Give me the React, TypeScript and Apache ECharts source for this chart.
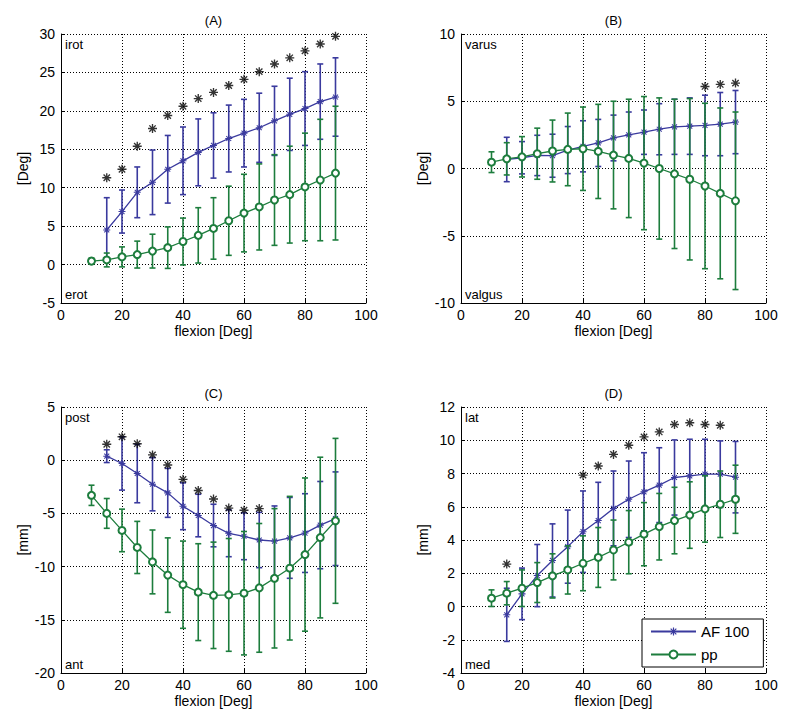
import React, { useEffect, useRef } from "react";
import * as echarts from "echarts";

// ---------- data ----------
const xBlue = [15, 20, 25, 30, 35, 40, 45, 50, 55, 60, 65, 70, 75, 80, 85, 90];
const xGreen = [10, 15, 20, 25, 30, 35, 40, 45, 50, 55, 60, 65, 70, 75, 80, 85, 90];

// Panel A (rotation, Deg)
const aBlueMean = [4.5, 6.9, 9.4, 10.7, 12.4, 13.5, 14.6, 15.5, 16.4, 17.1, 17.8, 18.7, 19.55, 20.3, 21.2, 21.8];
const aBlueErr = [4.2, 2.8, 3.3, 4.2, 4.4, 4.4, 4.35, 4.25, 4.35, 4.4, 4.5, 4.5, 4.7, 4.8, 4.9, 5.1];
const aGreenMean = [0.45, 0.6, 1.0, 1.3, 1.75, 2.2, 3.0, 3.8, 4.7, 5.7, 6.7, 7.5, 8.4, 9.1, 10.1, 11.0, 11.9];
const aGreenErr = [0.4, 0.9, 1.3, 1.75, 2.2, 2.7, 3.05, 3.6, 4.0, 4.5, 5.05, 5.6, 5.9, 6.3, 7.0, 7.9, 8.7];
const aStarX = [15, 20, 25, 30, 35, 40, 45, 50, 55, 60, 65, 70, 75, 80, 85, 90];
const aStarY = [11.3, 12.4, 15.4, 17.7, 19.4, 20.6, 21.6, 22.4, 23.3, 24.1, 25.1, 26.1, 26.9, 27.8, 28.7, 29.7];

// Panel B (varus/valgus, Deg)
const bBlueMean = [0.67, 0.8, 0.97, 0.95, 1.37, 1.65, 1.9, 2.27, 2.5, 2.7, 2.92, 3.1, 3.15, 3.2, 3.3, 3.45];
const bBlueErr = [1.65, 1.2, 1.5, 1.6, 1.75, 1.9, 1.75, 1.7, 1.7, 1.65, 1.9, 2.05, 2.1, 2.25, 2.35, 2.35];
const bGreenMean = [0.47, 0.72, 0.87, 1.1, 1.3, 1.42, 1.47, 1.27, 1.0, 0.75, 0.4, 0.0, -0.4, -0.8, -1.3, -1.85, -2.4];
const bGreenErr = [0.77, 1.2, 1.5, 1.9, 2.3, 2.7, 3.1, 3.5, 4.0, 4.4, 4.95, 5.25, 5.55, 6.0, 6.15, 6.35, 6.6];
const bStarX = [80, 85, 90];
const bStarY = [6.1, 6.25, 6.35];

// Panel C (post/ant, mm)
const cBlueMean = [0.38, -0.31, -1.25, -2.26, -3.07, -4.33, -5.2, -6.14, -6.87, -7.15, -7.5, -7.6, -7.3, -6.85, -6.1, -5.5];
const cBlueErr = [0.6, 2.5, 2.75, 2.5, 2.3, 2.2, 2.0, 2.0, 2.2, 2.2, 2.6, 3.3, 3.8, 3.7, 4.1, 4.4];
const cGreenMean = [-3.3, -5.0, -6.6, -8.2, -9.56, -10.8, -11.7, -12.4, -12.7, -12.66, -12.5, -12.0, -11.1, -10.15, -8.87, -7.27, -5.7];
const cGreenErr = [0.95, 1.4, 2.0, 2.45, 3.0, 3.5, 4.1, 4.55, 5.0, 5.3, 5.8, 6.05, 6.55, 6.75, 7.2, 7.55, 7.75];
const cStarX = [15, 20, 25, 30, 35, 40, 45, 50, 55, 60, 65];
const cStarY = [1.5, 2.2, 1.55, 0.5, -0.45, -1.8, -2.85, -3.65, -4.5, -4.7, -4.55];

// Panel D (lat/med, mm)
const dBlueMean = [-0.5, 0.76, 1.86, 2.77, 3.6, 4.5, 5.17, 5.9, 6.45, 6.9, 7.3, 7.76, 7.86, 7.96, 7.96, 7.78];
const dBlueErr = [1.6, 1.55, 1.87, 2.2, 2.2, 2.45, 2.3, 2.25, 2.3, 2.35, 2.25, 2.26, 2.2, 2.1, 2.0, 2.15];
const dGreenMean = [0.5, 0.8, 1.1, 1.44, 1.84, 2.2, 2.6, 2.95, 3.4, 3.87, 4.35, 4.8, 5.17, 5.5, 5.87, 6.15, 6.45];
const dGreenErr = [0.5, 0.7, 1.1, 1.2, 1.33, 1.45, 1.65, 1.8, 1.8, 1.9, 1.9, 2.0, 2.0, 2.0, 2.0, 2.0, 2.05];
const dStarX = [15, 40, 45, 50, 55, 60, 65, 70, 75, 80, 85];
const dStarY = [2.55, 7.9, 8.45, 9.15, 9.7, 10.2, 10.5, 10.95, 11.05, 10.95, 10.9];

const panelTitles = ["(A)", "(B)", "(C)", "(D)"];
const yNames = ["[Deg]", "[Deg]", "[mm]", "[mm]"];
const xName = "flexion [Deg]";
const topLabels = ["irot", "varus", "post", "lat"];
const bottomLabels = ["erot", "valgus", "ant", "med"];
const yMins = [-5, -10, -20, -4];
const yMaxs = [30, 10, 5, 12];
const yIntervals = [5, 5, 5, 2];
const seriesNames = ["AF 100", "pp"];

// ---------- style ----------
const BLUE = "#3a3a9e";
const GREEN = "#1d7d3d";
const FONT = "Liberation Sans, Arial, sans-serif";
const ASTERISK =
  "path://M0 8.5L20 8.5L20 11.5L0 11.5Z M8.5 0L11.5 0L11.5 20L8.5 20Z M3.99 1.87L18.13 16.01L16.01 18.13L1.87 3.99Z M1.87 16.01L16.01 1.87L18.13 3.99L3.99 18.13Z";

const grids = [
  { left: 61, top: 34, width: 305, height: 269 },
  { left: 461, top: 34, width: 305, height: 269 },
  { left: 61, top: 407, width: 305, height: 266 },
  { left: 461, top: 407, width: 305, height: 266 },
];

const panels = [
  { bm: aBlueMean, be: aBlueErr, gm: aGreenMean, ge: aGreenErr, sx: aStarX, sy: aStarY },
  { bm: bBlueMean, be: bBlueErr, gm: bGreenMean, ge: bGreenErr, sx: bStarX, sy: bStarY },
  { bm: cBlueMean, be: cBlueErr, gm: cGreenMean, ge: cGreenErr, sx: cStarX, sy: cStarY },
  { bm: dBlueMean, be: dBlueErr, gm: dGreenMean, ge: dGreenErr, sx: dStarX, sy: dStarY },
];

function errRender(color: string) {
  return (params: any, api: any) => {
    const x = api.value(0);
    const lo = api.value(1);
    const hi = api.value(2);
    const p1 = api.coord([x, hi]);
    const p2 = api.coord([x, lo]);
    const w = 3;
    const st = { stroke: color, lineWidth: 1.6 };
    return {
      type: "group",
      children: [
        { type: "line", shape: { x1: p1[0], y1: p1[1], x2: p2[0], y2: p2[1] }, style: st },
        { type: "line", shape: { x1: p1[0] - w, y1: p1[1], x2: p1[0] + w, y2: p1[1] }, style: st },
        { type: "line", shape: { x1: p2[0] - w, y1: p2[1], x2: p2[0] + w, y2: p2[1] }, style: st },
      ],
    };
  };
}

export default function App() {
  const ref = useRef<HTMLDivElement>(null);
  useEffect(() => {
    if (!ref.current) return;
    const chart = echarts.init(ref.current, undefined, { renderer: "svg" });

    const xAxes = grids.map((_, i) => ({
      type: "value",
      gridIndex: i,
      min: 0,
      max: 100,
      interval: 20,
      name: xName,
      nameLocation: "middle",
      nameGap: 21,
      nameTextStyle: { color: "#000", fontSize: 14, fontFamily: FONT },
      axisLine: { show: true, onZero: false, lineStyle: { color: "#000", width: 1 } },
      axisTick: { show: true, inside: true, length: 4, lineStyle: { color: "#000" } },
      axisLabel: { color: "#000", fontSize: 14, fontFamily: FONT, margin: 5 },
      splitLine: { show: true, lineStyle: { color: "#000", type: [1, 2], width: 1 } },
    }));

    const yAxes = grids.map((_, i) => ({
      type: "value",
      gridIndex: i,
      min: yMins[i],
      max: yMaxs[i],
      interval: yIntervals[i],
      name: yNames[i],
      nameLocation: "middle",
      nameRotate: 90,
      nameGap: 31,
      nameTextStyle: { color: "#000", fontSize: 14, fontFamily: FONT },
      axisLine: { show: true, onZero: false, lineStyle: { color: "#000", width: 1 } },
      axisTick: { show: true, inside: true, length: 4, lineStyle: { color: "#000" } },
      axisLabel: { color: "#000", fontSize: 14, fontFamily: FONT, margin: 6 },
      splitLine: { show: true, lineStyle: { color: "#000", type: [1, 2], width: 1 } },
    }));

    const series: any[] = [];
    panels.forEach((p, i) => {
      series.push({
        type: "custom",
        name: "AF 100 error",
        xAxisIndex: i,
        yAxisIndex: i,
        z: 2,
        renderItem: errRender(BLUE),
        encode: { x: 0, y: [1, 2] },
        data: xBlue.map((x, k) => [x, p.bm[k] - p.be[k], p.bm[k] + p.be[k]]),
        silent: true,
      });
      series.push({
        type: "line",
        name: seriesNames[0],
        xAxisIndex: i,
        yAxisIndex: i,
        z: 3,
        symbol: ASTERISK,
        symbolSize: 7,
        showAllSymbol: true,
        lineStyle: { color: BLUE, width: 1.3 },
        itemStyle: { color: BLUE },
        data: xBlue.map((x, k) => [x, p.bm[k]]),
      });
      series.push({
        type: "custom",
        name: "pp error",
        xAxisIndex: i,
        yAxisIndex: i,
        z: 4,
        renderItem: errRender(GREEN),
        encode: { x: 0, y: [1, 2] },
        data: xGreen.map((x, k) => [x, p.gm[k] - p.ge[k], p.gm[k] + p.ge[k]]),
        silent: true,
      });
      series.push({
        type: "line",
        name: seriesNames[1],
        xAxisIndex: i,
        yAxisIndex: i,
        z: 5,
        symbol: "emptyCircle",
        symbolSize: 7,
        showAllSymbol: true,
        lineStyle: { color: GREEN, width: 1.3 },
        itemStyle: { color: GREEN, borderWidth: 1.3 },
        data: xGreen.map((x, k) => [x, p.gm[k]]),
      });
      series.push({
        type: "scatter",
        name: "sig",
        xAxisIndex: i,
        yAxisIndex: i,
        z: 6,
        symbol: ASTERISK,
        symbolSize: 9,
        itemStyle: { color: "#000" },
        data: p.sx.map((x, k) => [x, p.sy[k]]),
      });
    });

    const graphics: any[] = [];
    grids.forEach((g, i) => {
      graphics.push({
        type: "text",
        x: g.left + g.width / 2,
        y: g.top - 14,
        style: { text: panelTitles[i], align: "center", verticalAlign: "middle", font: `13px ${FONT}`, fill: "#000" },
      });
      graphics.push({
        type: "text",
        x: g.left + 4,
        y: g.top + 10,
        style: { text: topLabels[i], align: "left", verticalAlign: "middle", font: `13px ${FONT}`, fill: "#000" },
      });
      graphics.push({
        type: "text",
        x: g.left + 4,
        y: g.top + g.height - 9,
        style: { text: bottomLabels[i], align: "left", verticalAlign: "middle", font: `13px ${FONT}`, fill: "#000" },
      });
    });

    chart.setOption({
      animation: false,
      backgroundColor: "#fff",
      grid: grids,
      xAxis: xAxes,
      yAxis: yAxes,
      series,
      graphic: graphics,
      legend: {
        data: seriesNames,
        orient: "vertical",
        left: 642,
        top: 619,
        width: 117,
        itemWidth: 45,
        itemHeight: 10,
        itemGap: 8,
        padding: [5, 14, 5, 8],
        backgroundColor: "#fff",
        borderColor: "#000",
        borderWidth: 1,
        borderRadius: 0,
        selectedMode: false,
        textStyle: { color: "#000", fontSize: 15, fontFamily: FONT },
      },
    });
    return () => chart.dispose();
  }, []);
  return <div ref={ref} style={{ position: "fixed", left: 0, top: 0, width: 800, height: 725 }} />;
}
